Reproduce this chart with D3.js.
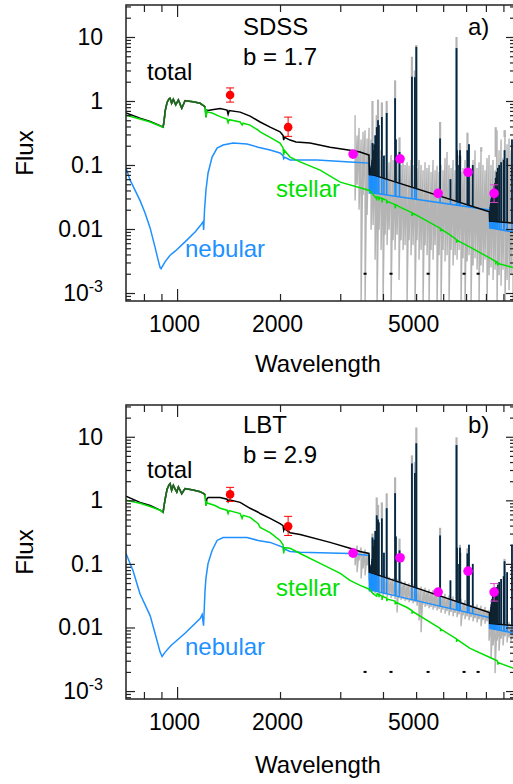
<!DOCTYPE html>
<html><head><meta charset="utf-8">
<script src="https://cdn.jsdelivr.net/npm/d3@7"></script>
<style>body{margin:0;background:#fff}svg{display:block}text{font-family:"Liberation Sans",Arial,sans-serif;fill:#000}</style>
</head><body><svg id="c" width="513" height="784"></svg>
<script>
// ---------- DATA (wavelength in Angstrom, flux) ----------
const stellarA = [[709,0.60],[779,0.523],[834,0.47],[892,0.407],[910,0.39],[916,0.48],[923,0.70],[935,0.95],[947,1.08],[954,1.10],[964,0.92],[975,1.06],[991,0.87],[1009,1.04],[1032,0.77],[1055,1.01],[1114,0.975],[1168,0.92],[1199,0.835],[1208,0.80],[1215,0.56],[1222,0.70],[1232,0.67],[1266,0.65],[1336,0.57],[1400,0.52],[1410,0.46],[1420,0.51],[1529,0.47],[1549,0.42],[1560,0.45],[1635,0.42],[1726,0.35],[1749,0.33],[1871,0.27],[2000,0.22],[2041,0.185],[2050,0.143],[2060,0.17],[2140,0.133],[2290,0.112],[2620,0.083],[3000,0.054],[3428,0.044],[3650,0.040],[3793,0.032],[3835,0.029],[3845,0.032],[3889,0.031],[3895,0.028],[3905,0.031],[3970,0.030],[3975,0.026],[3985,0.030],[4101,0.028],[4106,0.025],[4115,0.027],[4340,0.024],[4345,0.021],[4355,0.024],[4488,0.022],[4861,0.018],[4866,0.016],[4875,0.0178],[5135,0.0153],[5890,0.0102],[5895,0.0092],[5905,0.0100],[6284,0.0081],[6563,0.0068],[6568,0.0061],[6578,0.0067],[7190,0.0052],[8227,0.0035],[8545,0.0031],[8550,0.0028],[8560,0.0031],[8665,0.0030],[8670,0.0027],[8680,0.0029],[9603,0.0025],[9730,0.0024]];
const totalA = [[709,0.65],[779,0.54],[834,0.48],[892,0.41],[910,0.39],[916,0.48],[923,0.70],[935,0.95],[947,1.08],[954,1.10],[964,0.92],[975,1.06],[991,0.87],[1009,1.04],[1032,0.77],[1055,1.01],[1114,0.975],[1168,0.92],[1199,0.835],[1208,0.80],[1215,0.56],[1222,0.72],[1232,0.71],[1266,0.73],[1336,0.76],[1400,0.72],[1410,0.62],[1420,0.71],[1529,0.67],[1635,0.58],[1749,0.47],[1871,0.39],[2000,0.33],[2041,0.29],[2050,0.245],[2060,0.27],[2140,0.245],[2228,0.229],[2447,0.22],[2801,0.19],[3203,0.17],[3428,0.16],[3640,0.143],[3650,0.071],[3742,0.070],[8190,0.0185],[8205,0.0133],[9730,0.0123]];
const nebularA = [[709,0.090],[729,0.058],[779,0.028],[806,0.0178],[834,0.0104],[862,0.0052],[880,0.0033],[892,0.0025],[898,0.0024],[923,0.0031],[954,0.0039],[987,0.0045],[1055,0.0063],[1129,0.0090],[1168,0.0112],[1191,0.0129],[1196,0.0097],[1203,0.0198],[1215,0.041],[1232,0.075],[1266,0.133],[1309,0.184],[1363,0.205],[1458,0.22],[1601,0.213],[1726,0.19],[1871,0.171],[2000,0.154],[2041,0.14],[2050,0.125],[2065,0.132],[2140,0.12],[2566,0.12],[3203,0.111],[3640,0.107],[3650,0.0365],[3742,0.0365],[8190,0.0198],[8205,0.0104],[9730,0.0089]];

const stellarB = [[709,1.0],[779,0.897],[834,0.80],[892,0.70],[910,0.647],[916,0.82],[923,1.05],[935,1.5],[947,1.75],[954,1.83],[964,1.44],[975,1.72],[987,1.5],[998,1.35],[1009,1.62],[1020,1.45],[1032,1.27],[1055,1.53],[1114,1.45],[1168,1.37],[1199,1.27],[1208,1.22],[1215,0.83],[1222,0.93],[1232,0.90],[1291,0.83],[1336,0.75],[1400,0.70],[1410,0.62],[1420,0.69],[1529,0.62],[1549,0.52],[1560,0.58],[1635,0.54],[1726,0.43],[1749,0.376],[1871,0.31],[2000,0.234],[2041,0.20],[2050,0.146],[2060,0.18],[2140,0.176],[2290,0.146],[2620,0.102],[3000,0.071],[3203,0.055],[3428,0.046],[3650,0.040],[3742,0.034],[3835,0.031],[3845,0.034],[3889,0.033],[3895,0.030],[3905,0.033],[3970,0.031],[3975,0.027],[3985,0.031],[4101,0.029],[4106,0.026],[4115,0.028],[4340,0.026],[4345,0.023],[4355,0.025],[4704,0.0206],[4861,0.0185],[4866,0.0165],[4875,0.018],[5875,0.0097],[5890,0.0096],[5895,0.0087],[5905,0.0094],[6563,0.0066],[6568,0.0059],[6578,0.0065],[7190,0.0047],[8622,0.0030],[8665,0.0029],[8670,0.0026],[8680,0.0028],[9603,0.0023],[9730,0.0022]];
const totalB = [[709,1.16],[779,0.93],[834,0.83],[892,0.70],[910,0.647],[916,0.82],[923,1.05],[935,1.5],[947,1.75],[954,1.83],[964,1.44],[975,1.72],[987,1.5],[998,1.35],[1009,1.62],[1020,1.45],[1032,1.27],[1055,1.53],[1114,1.45],[1168,1.37],[1199,1.27],[1208,1.22],[1215,0.83],[1222,1.05],[1232,1.11],[1291,1.11],[1336,1.11],[1400,1.04],[1410,0.95],[1420,1.02],[1529,0.93],[1635,0.75],[1726,0.65],[1749,0.62],[1871,0.52],[2000,0.43],[2041,0.40],[2050,0.337],[2060,0.36],[2140,0.31],[2290,0.29],[2801,0.218],[3203,0.176],[3428,0.157],[3640,0.146],[3650,0.074],[3742,0.071],[8190,0.0172],[8205,0.0116],[9730,0.0107]];
const nebularB = [[709,0.146],[743,0.079],[779,0.034],[834,0.0154],[862,0.0081],[892,0.0041],[904,0.0035],[923,0.0041],[960,0.0052],[1055,0.0081],[1168,0.0138],[1184,0.016],[1195,0.0107],[1207,0.038],[1215,0.061],[1232,0.102],[1266,0.163],[1309,0.234],[1363,0.26],[1601,0.26],[1726,0.234],[1871,0.218],[2041,0.182],[2050,0.163],[2065,0.17],[2140,0.157],[2290,0.152],[3203,0.146],[3640,0.136],[3650,0.038],[3742,0.038],[8190,0.0143],[8205,0.0097],[9730,0.0081]];

// emission lines of the model (total / nebular peaks)
const lineWave = [3679,3687,3697,3704,3712,3722,3727,3734,3750,3771,3798,3835,3869,3889,3970,4026,4101,4340,4363,4471,4861,4959,5007,5876,6300,6563,6584,6678,6717,6731,7065,7136,7320,8240,8255,8270,8285,8300,8320,8345,8374,8413,8467,8502,8545,8598,8665,8750,8863,9015,9069,9229,9532];
const lineA = [0.085,0.09,0.095,0.10,0.11,0.12,0.22,0.13,0.17,0.21,0.29,0.39,0.50,0.42,0.56,0.14,0.65,1.1,0.25,0.16,2.4,2.35,7.0,0.26,0.06,6.7,0.17,0.10,0.17,0.14,0.17,0.21,0.10,0.022,0.024,0.026,0.028,0.030,0.032,0.035,0.038,0.041,0.047,0.052,0.063,0.078,0.09,0.10,0.11,0.12,0.17,0.128,0.25];
const lineB = [0.085,0.09,0.095,0.10,0.11,0.12,0.26,0.14,0.19,0.24,0.33,0.58,0.50,0.45,0.52,0.15,0.75,1.29,0.27,0.163,3.8,2.7,7.9,0.28,0.055,7.4,0.18,0.10,0.18,0.15,0.146,0.2,0.10,0.0155,0.017,0.019,0.021,0.023,0.025,0.028,0.031,0.034,0.038,0.040,0.042,0.043,0.047,0.052,0.058,0.064,0.11,0.074,0.2];

// observed spectrum: wavelength grid, upper and lower envelope
const obsWave = [3315,3360,3405,3452,3498,3546,3594,3642,3692,3742,3793,3844,3896,3949,4002,4057,4112,4167,4224,4281,4339,4398,4457,4518,4579,4641,4704,4768,4832,4898,4964,5031,5099,5169,5239,5310,5382,5455,5529,5604,5680,5757,5835,5914,5994,6075,6158,6241,6326,6412,6499,6587,6676,6766,6858,6951,7045,7140,7237,7335,7435,7536,7638,7741,7846,7953,8060,8170,8280,8393,8507,8622,8739,8857,8977,9099,9223,9348,9475,9603];
const obsHiA = [0.60,0.29,0.38,0.25,0.33,0.35,0.26,0.38,0.25,0.17,0.143,0.16,0.128,0.17,0.12,0.143,0.128,0.11,0.143,0.12,0.128,0.107,0.12,0.10,0.128,0.10,0.11,0.097,0.12,0.10,0.107,0.09,0.12,0.10,0.083,0.11,0.09,0.10,0.078,0.12,0.083,0.097,0.078,0.10,0.083,0.128,0.16,0.10,0.09,0.12,0.083,0.10,0.143,0.078,0.09,0.12,0.083,0.10,0.078,0.12,0.17,0.09,0.11,0.17,0.10,0.083,0.128,0.143,0.10,0.12,0.083,0.35,0.17,0.25,0.128,0.35,0.21,0.26,0.17,0.25];
const obsLoA = [0.028,0.049,0.020,0.0006,0.034,0.0006,0.0165,0.041,0.0097,0.0115,0.0033,0.0006,0.0097,0.0047,0.0006,0.0081,0.0056,0.0097,0.0006,0.0067,0.0047,0.0081,0.0016,0.0067,0.0047,0.0056,0.0006,0.0067,0.0039,0.0056,0.0006,0.0067,0.0033,0.0047,0.0006,0.0056,0.0039,0.0006,0.0047,0.0033,0.0056,0.0006,0.0039,0.0006,0.0047,0.0031,0.0039,0.0006,0.0047,0.0027,0.0039,0.0033,0.0047,0.0006,0.0035,0.0006,0.0031,0.0039,0.0006,0.0027,0.0035,0.0023,0.0006,0.0027,0.0021,0.0033,0.0006,0.0019,0.0025,0.0016,0.0023,0.0006,0.0019,0.0013,0.0023,0.0006,0.0016,0.0011,0.0019,0.0006];
const obsHiB = [0.176,0.195,0.163,0.182,0.152,0.169,0.146,0.136,0.095,0.072,0.068,0.074,0.065,0.068,0.061,0.066,0.058,0.063,0.056,0.060,0.053,0.058,0.051,0.055,0.048,0.053,0.046,0.050,0.044,0.048,0.042,0.046,0.040,0.044,0.038,0.042,0.037,0.040,0.035,0.039,0.034,0.037,0.032,0.035,0.031,0.034,0.029,0.032,0.028,0.031,0.027,0.029,0.0255,0.028,0.0245,0.027,0.0235,0.0255,0.0225,0.0245,0.0215,0.023,0.0205,0.022,0.0195,0.021,0.0187,0.019,0.0125,0.0135,0.0122,0.0132,0.0118,0.0128,0.0115,0.0125,0.0112,0.0122,0.011,0.0118];
const obsLoB = [0.095,0.074,0.114,0.059,0.085,0.066,0.095,0.055,0.038,0.037,0.034,0.036,0.032,0.034,0.031,0.033,0.030,0.032,0.029,0.031,0.028,0.0172,0.029,0.027,0.028,0.026,0.027,0.025,0.026,0.024,0.025,0.022,0.0129,0.0084,0.023,0.021,0.022,0.020,0.021,0.019,0.0205,0.0185,0.0195,0.017,0.019,0.0165,0.018,0.0155,0.0175,0.015,0.017,0.0145,0.016,0.0105,0.0155,0.0135,0.015,0.013,0.0145,0.0125,0.014,0.012,0.0135,0.0105,0.013,0.0115,0.0125,0.0062,0.0033,0.0052,0.0019,0.0062,0.0043,0.0067,0.0052,0.0073,0.0058,0.0070,0.0062,0.0067];
// observed emission-line peaks
const obsLineWave = [3727,3835,3869,3970,4101,4340,4471,4861,4959,5007,5876,6563,6717,7065,7751,8545,9069];
const obsLineA = [1.0,0.6,1.05,0.95,1.0,2.1,0.27,4.9,3.0,7.5,0.47,10,0.22,0.32,0.19,0.39,0.35];
const obsLineB = [0.30,1.11,0.85,0.93,1.29,2.3,0.25,5.1,4.0,14,0.37,9.8,0.2,0.176,null,null,0.12];

// photometry
const redWave = [1429,2112], redFlux = [1.24,0.39], redLo = [0.96,0.28], redHi = [1.6,0.56];
const magWave = [3271,4488,5799,7094,8452], magFlux = [0.148,0.125,0.036,0.077,0.036];
const magLo = [null,null,null,null,0.026], magHi = [null,null,null,null,0.049];
const markWave = [3546,4223,5420,6905,7590], markFlux = [0.002,0.002,0.002,0.002,0.002];

// axes
const xDomain = [709,9730], yDomain = [0.00075,31.6];
const xLabelTicks = [1000,2000,5000], xMajorTicks = [1000];
const yLabelTicks = [10,1,0.1,0.01,0.001];

// ---------- DRAW ----------
const C = {gray:'#b4b4b4', blue:'#1e90ff', green:'#00e000', dgreen:'#2a5e2a', line:'#0f2331', red:'#ff0000', mag:'#ff00ff', magErr:'#e040d0', axis:'#222'};
const L = 126, R = 515;
const svg = d3.select('#c');
const x = d3.scaleLog().domain(xDomain).range([L, R]);

function interp(series, w){
  for (let i=0;i<series.length-1;i++){
    const a=series[i], b=series[i+1];
    if (w>=a[0] && w<=b[0]){
      const t=(Math.log(w)-Math.log(a[0]))/(Math.log(b[0])-Math.log(a[0]));
      return Math.exp(Math.log(a[1])+t*(Math.log(b[1])-Math.log(a[1])));
    }
  }
  return series[series.length-1][1];
}

const panels = [
  {top:5,bottom:301,stellar:stellarA,total:totalA,nebular:nebularA,lines:lineA,hi:obsHiA,lo:obsLoA,obsLines:obsLineA,
   name:'SDSS',bval:'b = 1.7',tag:'a)',nameY:35,bY:65,totalY:80,stellarY:197,nebY:257,titleY:372},
  {top:405,bottom:699,stellar:stellarB,total:totalB,nebular:nebularB,lines:lineB,hi:obsHiB,lo:obsLoB,obsLines:obsLineB,
   name:'LBT',bval:'b = 2.9',tag:'b)',nameY:433,bY:463,totalY:478,stellarY:596,nebY:655,titleY:773}
];

panels.forEach((p,k)=>{
  const y = d3.scaleLog().domain(yDomain).range([p.bottom,p.top]);
  const line = d3.line().x(d=>x(d[0])).y(d=>y(d[1]));
  svg.append('clipPath').attr('id','clip'+k).append('rect')
    .attr('x',L).attr('y',p.top).attr('width',R-L).attr('height',p.bottom-p.top);
  const g = svg.append('g').attr('clip-path',`url(#clip${k})`);

  // observed spectrum
  const zz=[]; obsWave.forEach((w,i)=>{zz.push([w,p.hi[i]]); zz.push([w,p.lo[i]]);});
  g.append('path').attr('d',line(zz)).attr('fill','none').attr('stroke',C.gray).attr('stroke-width',1.4);
  const hiSeries = obsWave.map((w,i)=>[w,p.hi[i]]);
  g.selectAll(null).data(obsLineWave.map((w,i)=>[w,p.obsLines[i]]).filter(d=>d[1]!=null)).join('line')
    .attr('x1',d=>x(d[0])).attr('x2',d=>x(d[0]))
    .attr('y1',d=>y(interp(hiSeries,d[0]))).attr('y2',d=>y(d[1]))
    .attr('stroke',C.gray).attr('stroke-width',2.2);

  // nebular
  g.append('path').attr('d',line(p.nebular)).attr('fill','none').attr('stroke',C.blue).attr('stroke-width',1.5);
  const ld = lineWave.map((w,i)=>[w,p.lines[i]]);
  g.selectAll(null).data(ld).join('line')
    .attr('x1',d=>x(d[0])).attr('x2',d=>x(d[0]))
    .attr('y1',d=>y(interp(p.nebular,d[0]))).attr('y2',d=>y(d[1]))
    .attr('stroke',C.blue).attr('stroke-width',1.6);

  // total
  g.append('path').attr('d',line(p.total)).attr('fill','none').attr('stroke','#000').attr('stroke-width',1.5);
  g.selectAll(null).data(ld).join('line')
    .attr('x1',d=>x(d[0])).attr('x2',d=>x(d[0]))
    .attr('y1',d=>y(interp(p.total,d[0]))).attr('y2',d=>y(d[1]))
    .attr('stroke',C.line).attr('stroke-width',1.7);

  // stellar
  g.append('path').attr('d',line(p.stellar)).attr('fill','none').attr('stroke',C.green).attr('stroke-width',1.5);
  g.append('path').attr('d',line(p.stellar.filter(d=>d[0]>=905 && d[0]<=1212))).attr('fill','none').attr('stroke',C.dgreen).attr('stroke-width',1.6);

  // marks
  g.selectAll(null).data(markWave.map((w,i)=>[w,markFlux[i]])).join('rect')
    .attr('x',d=>x(d[0])-1.5).attr('y',d=>y(d[1])-1).attr('width',3).attr('height',2).attr('fill','#000');

  // red photometry
  const rd = redWave.map((w,i)=>({w,f:redFlux[i],lo:redLo[i],hi:redHi[i]}));
  rd.forEach(d=>{
    g.append('line').attr('x1',x(d.w)).attr('x2',x(d.w)).attr('y1',y(d.lo)).attr('y2',y(d.hi)).attr('stroke',C.red).attr('stroke-width',1);
    [d.lo,d.hi].forEach(v=>g.append('line').attr('x1',x(d.w)-4).attr('x2',x(d.w)+4).attr('y1',y(v)).attr('y2',y(v)).attr('stroke',C.red).attr('stroke-width',1));
  });
  g.selectAll(null).data(rd).join('circle').attr('cx',d=>x(d.w)).attr('cy',d=>y(d.f)).attr('r',4.3).attr('fill',C.red);

  // magenta photometry
  const md = magWave.map((w,i)=>({w,f:magFlux[i],lo:magLo[i],hi:magHi[i]}));
  md.filter(d=>d.lo!=null).forEach(d=>{
    g.append('line').attr('x1',x(d.w)).attr('x2',x(d.w)).attr('y1',y(d.lo)).attr('y2',y(d.hi)).attr('stroke',C.magErr).attr('stroke-width',1);
    [d.lo,d.hi].forEach(v=>g.append('line').attr('x1',x(d.w)-4).attr('x2',x(d.w)+4).attr('y1',y(v)).attr('y2',y(v)).attr('stroke',C.magErr).attr('stroke-width',1));
  });
  g.selectAll(null).data(md).join('circle').attr('cx',d=>x(d.w)).attr('cy',d=>y(d.f)).attr('r',4.8).attr('fill',C.mag);

  // axes
  const ax = svg.append('g');
  const xt = x.ticks();
  const yt = y.ticks();
  const isDec = v=>Math.abs(Math.log10(v)-Math.round(Math.log10(v)))<1e-6;
  function style(s){ s.select('.domain').remove(); s.selectAll('line').attr('stroke',C.axis).attr('stroke-width',1.2); }
  ax.append('g').attr('transform',`translate(0,${p.bottom})`).call(d3.axisBottom(x).tickValues(xt.filter(v=>!xMajorTicks.includes(v))).tickSize(-7).tickFormat('')).call(style);
  ax.append('g').attr('transform',`translate(0,${p.bottom})`).call(d3.axisBottom(x).tickValues(xMajorTicks).tickSize(-12).tickFormat('')).call(style);
  ax.append('g').attr('transform',`translate(0,${p.top})`).call(d3.axisTop(x).tickValues(xt.filter(v=>!xMajorTicks.includes(v))).tickSize(-7).tickFormat('')).call(style);
  ax.append('g').attr('transform',`translate(0,${p.top})`).call(d3.axisTop(x).tickValues(xMajorTicks).tickSize(-12).tickFormat('')).call(style);
  ax.append('g').attr('transform',`translate(${L},0)`).call(d3.axisLeft(y).tickValues(yt.filter(v=>!isDec(v))).tickSize(-5).tickFormat('')).call(style);
  ax.append('g').attr('transform',`translate(${L},0)`).call(d3.axisLeft(y).tickValues(yt.filter(isDec)).tickSize(-9).tickFormat('')).call(style);
  ax.append('g').attr('transform',`translate(${R},0)`).call(d3.axisRight(y).tickValues(yt.filter(v=>!isDec(v))).tickSize(-5).tickFormat('')).call(style);
  ax.append('g').attr('transform',`translate(${R},0)`).call(d3.axisRight(y).tickValues(yt.filter(isDec)).tickSize(-9).tickFormat('')).call(style);

  // tick labels
  const xl = ax.append('g').attr('transform',`translate(0,${p.bottom})`)
    .call(d3.axisBottom(x).tickValues(xLabelTicks).tickSize(0).tickPadding(15).tickFormat(d3.format('d')));
  xl.select('.domain').remove();
  xl.selectAll('text').attr('font-size',23).attr('font-family','"Liberation Sans",Arial,sans-serif').attr('x',-3).attr('fill','#000');
  const yl = ax.append('g').attr('transform',`translate(${L},0)`)
    .call(d3.axisLeft(y).tickValues(yLabelTicks).tickSize(0).tickPadding(23).tickFormat(d=>d>=1?String(d):(d===0.001?'':String(d))));
  yl.select('.domain').remove();
  yl.selectAll('text').attr('font-size',23).attr('font-family','"Liberation Sans",Arial,sans-serif').attr('fill','#000')
    .each(function(d){
      if (d===0.001){
        const t=d3.select(this);
        t.append('tspan').text('10');
        t.append('tspan').attr('dy',-9).attr('font-size',16).text('-3');
      }
    });

  // frame
  svg.append('rect').attr('x',L).attr('y',p.top).attr('width',R-L).attr('height',p.bottom-p.top)
    .attr('fill','none').attr('stroke',C.axis).attr('stroke-width',1.5);

  // texts
  const T = (txt,xx,yy,opt={})=>svg.append('text').attr('x',xx).attr('y',yy).attr('font-size',opt.size||24)
     .attr('text-anchor',opt.anchor||'start').style('fill',opt.color||'#000').text(txt);
  T(p.name,243,p.nameY); T(p.bval,243,p.bY); T(p.tag,468,p.nameY);
  T('total',147,p.totalY);
  T('stellar',276,p.stellarY,{color:C.green});
  T('nebular',185,p.nebY,{color:C.blue});
  T('Wavelength',318,p.titleY,{anchor:'middle'});
  svg.append('text').attr('transform',`translate(33,${(p.top+p.bottom)/2}) rotate(-90)`).attr('text-anchor','middle')
    .attr('font-size',24).text('Flux');
});
</script>
</body></html>
